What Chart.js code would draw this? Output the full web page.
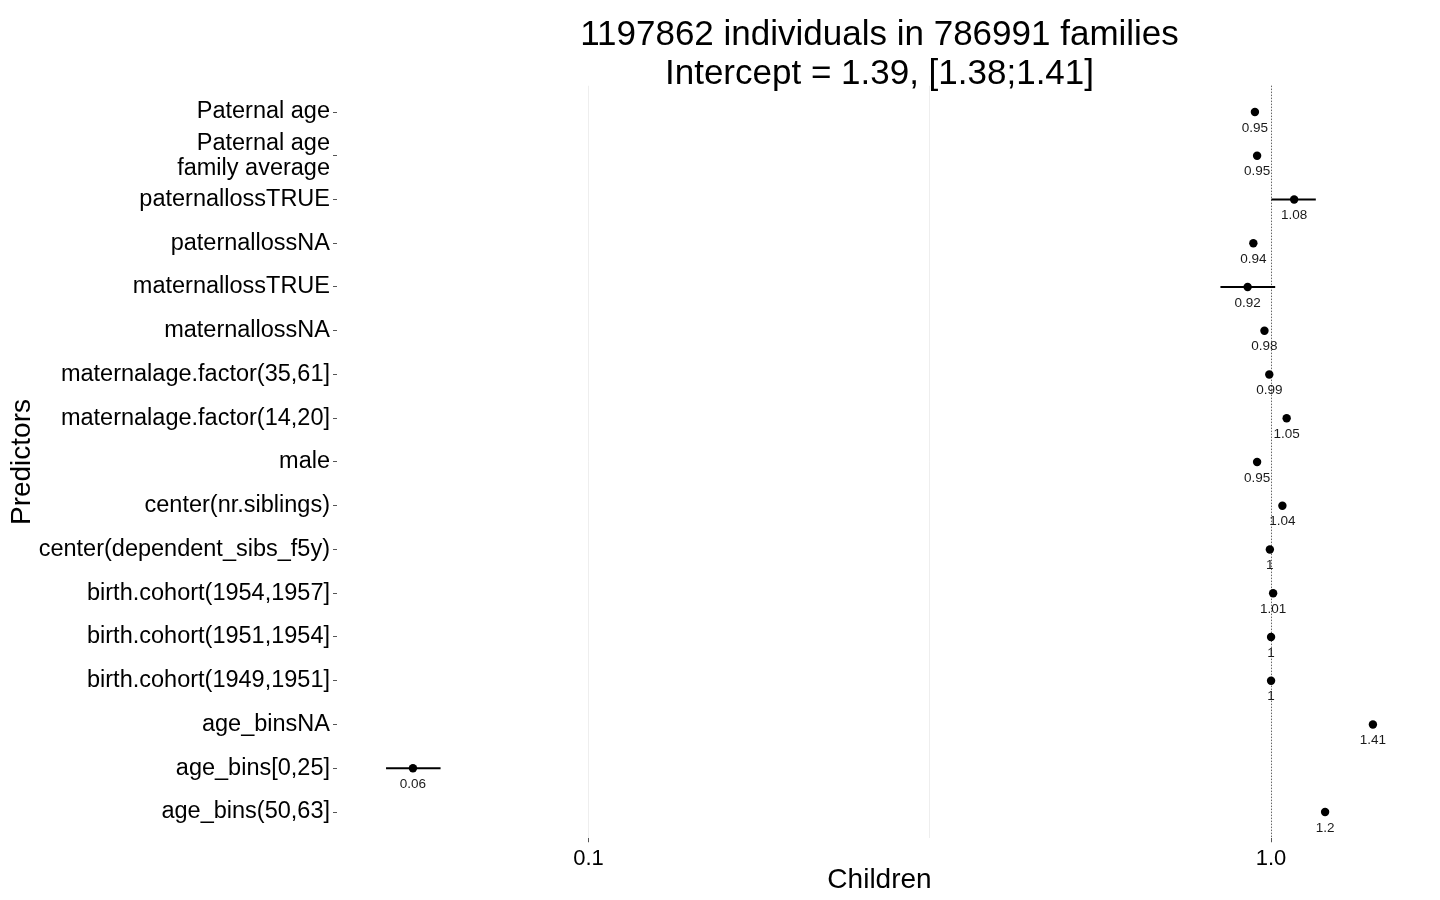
<!DOCTYPE html>
<html>
<head>
<meta charset="utf-8">
<script src="https://cdn.jsdelivr.net/npm/chart.js@4"></script>
<style>
  html, body { margin: 0; padding: 0; background: #ffffff; }
  #wrap { width: 1440px; height: 900px; position: relative; }
</style>
</head>
<body>
<div id="wrap"><canvas id="c" width="1440" height="900"></canvas></div>
<script>
// ---- data ----
const predictors = [
  "Paternal age",
  ["Paternal age", "family average"],
  "paternallossTRUE",
  "paternallossNA",
  "maternallossTRUE",
  "maternallossNA",
  "maternalage.factor(35,61]",
  "maternalage.factor(14,20]",
  "male",
  "center(nr.siblings)",
  "center(dependent_sibs_f5y)",
  "birth.cohort(1954,1957]",
  "birth.cohort(1951,1954]",
  "birth.cohort(1949,1951]",
  "age_binsNA",
  "age_bins[0,25]",
  "age_bins(50,63]"
];
const estimates = [0.947, 0.954, 1.081, 0.942, 0.924, 0.978, 0.994, 1.054, 0.954, 1.039, 0.996, 1.007, 1.0, 1.0, 1.41, 0.0553, 1.2];
const lowerCI   = [null, null, 1.001, null, 0.843, null, null, null, null, null, null, null, null, null, null, 0.0505, null];
const upperCI   = [null, null, 1.163, null, 1.014, null, null, null, null, null, null, null, null, null, null, 0.0607, null];
const valueLabels = ["0.95", "0.95", "1.08", "0.94", "0.92", "0.98", "0.99", "1.05", "0.95", "1.04", "1", "1.01", "1", "1", "1.41", "0.06", "1.2"];
const xTickValues = [0.1, 1.0];
const xMinorGrid = [Math.sqrt(0.1)];
const xTickLabels = ["0.1", "1.0"];
const referenceValue = 1.0;
const titleLines = ["1197862 individuals in 786991 families", "Intercept = 1.39, [1.38;1.41]"];
const xTitle = "Children";
const yTitle = "Predictors";

const FONT = "'Liberation Sans', Arial, Helvetica, sans-serif";

// ---- plugins ----
const refLinePlugin = {
  id: 'refLine',
  beforeDatasetsDraw(chart) {
    const {ctx, chartArea, scales} = chart;
    const x = scales.x.getPixelForValue(referenceValue);
    ctx.save();
    ctx.strokeStyle = '#3a3a3a';
    ctx.lineWidth = 1;
    ctx.setLineDash([1, 2]);
    ctx.beginPath();
    ctx.moveTo(Math.round(x) + 0.5, chartArea.top);
    ctx.lineTo(Math.round(x) + 0.5, chartArea.bottom);
    ctx.stroke();
    ctx.restore();
    // error bars
    ctx.save();
    ctx.strokeStyle = '#000000';
    ctx.lineWidth = 2;
    for (let i = 0; i < estimates.length; i++) {
      if (lowerCI[i] == null || upperCI[i] == null) continue;
      const y = scales.y.getPixelForValue(i);
      ctx.beginPath();
      ctx.moveTo(scales.x.getPixelForValue(lowerCI[i]), y);
      ctx.lineTo(scales.x.getPixelForValue(upperCI[i]), y);
      ctx.stroke();
    }
    ctx.restore();
  }
};

const valueLabelPlugin = {
  id: 'valueLabels',
  afterDatasetsDraw(chart) {
    const {ctx, scales} = chart;
    ctx.save();
    ctx.fillStyle = '#1a1a1a';
    ctx.font = "13.5px " + FONT;
    ctx.textAlign = 'center';
    ctx.textBaseline = 'middle';
    for (let i = 0; i < estimates.length; i++) {
      const x = scales.x.getPixelForValue(estimates[i]);
      const y = scales.y.getPixelForValue(i) + 16;
      ctx.fillText(valueLabels[i], x, y);
    }
    ctx.restore();
  }
};

const titlePlugin = {
  id: 'twoLineTitle',
  afterDraw(chart) {
    const {ctx, chartArea} = chart;
    const cx = (chartArea.left + chartArea.right) / 2;
    ctx.save();
    ctx.fillStyle = '#000000';
    ctx.font = "35px " + FONT;
    ctx.textAlign = 'center';
    ctx.textBaseline = 'alphabetic';
    ctx.fillText(titleLines[0], cx, 45);
    ctx.fillText(titleLines[1], cx, 84);
    ctx.restore();
  }
};

const gridValues = xTickValues.concat(xMinorGrid).sort((a, b) => a - b);

new Chart(document.getElementById('c'), {
  type: 'scatter',
  data: {
    datasets: [{
      data: estimates.map((v, i) => ({x: v, y: i})),
      backgroundColor: '#000000',
      borderColor: '#000000',
      pointRadius: 4.2,
      pointHoverRadius: 4.2,
      pointBorderWidth: 0
    }]
  },
  options: {
    responsive: false,
    animation: false,
    devicePixelRatio: 1,
    layout: { padding: { top: 85.75, right: 18, left: 0, bottom: 0 } },
    plugins: {
      legend: { display: false },
      tooltip: { enabled: false },
      title: { display: false }
    },
    scales: {
      x: {
        type: 'logarithmic',
        min: 0.0428,
        max: 1.664,
        bounds: 'data',
        afterBuildTicks(scale) {
          scale.ticks = gridValues.map(v => ({value: v}));
        },
        afterFit(scale) { scale.height = 61.75; },
        border: { display: false },
        grid: {
          color: '#eeeeee',
          lineWidth: 1,
          drawTicks: true,
          tickLength: 4,
          tickColor: (ctx) => xTickValues.some(t => Math.abs(t - ctx.tick.value) < 1e-9) ? '#555555' : 'rgba(0,0,0,0)'
        },
        ticks: {
          autoSkip: false,
          maxRotation: 0,
          padding: 3,
          color: '#000000',
          font: { family: FONT, size: 22 },
          callback: (value) => {
            const k = xTickValues.findIndex(t => Math.abs(t - value) < 1e-9);
            return k >= 0 ? xTickLabels[k] : '';
          }
        },
        title: {
          display: true,
          text: xTitle,
          color: '#000000',
          font: { family: FONT, size: 28 },
          padding: { top: 0, bottom: 3 }
        }
      },
      y: {
        type: 'linear',
        reverse: true,
        min: -0.6,
        max: predictors.length - 1 + 0.6,
        afterBuildTicks(scale) {
          scale.ticks = predictors.map((p, i) => ({value: i}));
        },
        afterFit(scale) { scale.width = 337; },
        border: { display: false },
        grid: {
          drawOnChartArea: false,
          drawTicks: true,
          tickLength: 4,
          tickColor: '#555555'
        },
        ticks: {
          autoSkip: false,
          padding: 3,
          color: '#000000',
          font: { family: FONT, size: 23.5, lineHeight: 1.08 },
          callback: (value) => predictors[value] !== undefined ? predictors[value] : ''
        },
        title: {
          display: true,
          text: yTitle,
          color: '#000000',
          font: { family: FONT, size: 28 },
          padding: { top: 5, bottom: 0 }
        }
      }
    }
  },
  plugins: [refLinePlugin, valueLabelPlugin, titlePlugin]
});
</script>
</body>
</html>
